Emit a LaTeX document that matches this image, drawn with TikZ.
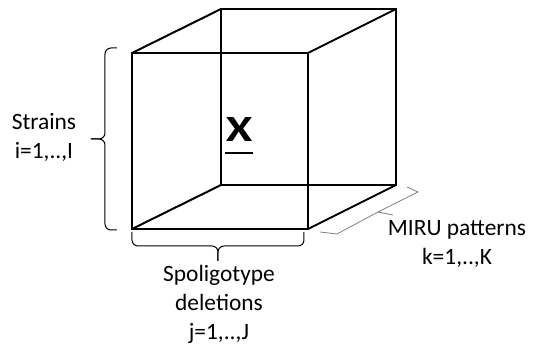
\documentclass[tikz,border=0pt]{standalone}
\usepackage{fontspec}
\setmainfont{Carlito}

\begin{document}
\begin{tikzpicture}[x=0.5pt,y=-0.5pt,
        edge/.style={line width=1pt,line join=miter},
        curly/.style={line width=0.5pt,rounded corners=3pt},
        label/.style={align=center,anchor=base,font=\fontsize{11.7pt}{14.5pt}\selectfont}]
    \useasboundingbox (0,0) rectangle (538,347);
    \coordinate (ftl) at (132,53);  \coordinate (ftr) at (308,53);
    \coordinate (fbl) at (132,229); \coordinate (fbr) at (308,229);
    \coordinate (btl) at (221,9);   \coordinate (btr) at (396,9);
    \coordinate (bbl) at (221,185); \coordinate (bbr) at (396,185);
    \draw [edge] (btl) -- (btr) -- (bbr) -- (bbl) -- cycle;
    \draw [edge] (ftl) -- (btl) (ftr) -- (btr) (fbl) -- (bbl) (fbr) -- (bbr);
    \draw [edge] (ftl) -- (ftr) -- (fbr) -- (fbl) -- cycle;
    \node [inner sep=0pt,font=\fontsize{18.5pt}{20pt}\selectfont\bfseries] (xlab) at (239,130) {\scalebox{1.3}[1]{X}};
    \draw [line width=1pt] ([yshift=-5.3pt]xlab.south west) -- ([yshift=-5.3pt]xlab.south east);
    \draw [curly] (117,48) -- (105,48) -- (105,139) -- (91,139);
    \draw [curly] (117,230) -- (105,230) -- (105,139) -- (91,139);
    \draw [curly] (132,232) -- (132,246) -- (218,246) -- (218,261);
    \draw [curly] (304,232) -- (304,246) -- (218,246) -- (218,261);
    \draw [gray,line width=0.4pt] (320,232) -- (337,234) -- (378,212) -- (418,192) -- (407,187)
        (378,212) -- (393,215);
    \node [label] (strains) at (44,159) {Strains\\i=1,..,I};
    \node [label] (spolig) at (219,340) {Spoligotype\\deletions\\j=1,..,J};
    \node [label] (miru) at (457,265) {MIRU patterns\\k=1,..,K};
\end{tikzpicture}
\end{document}
